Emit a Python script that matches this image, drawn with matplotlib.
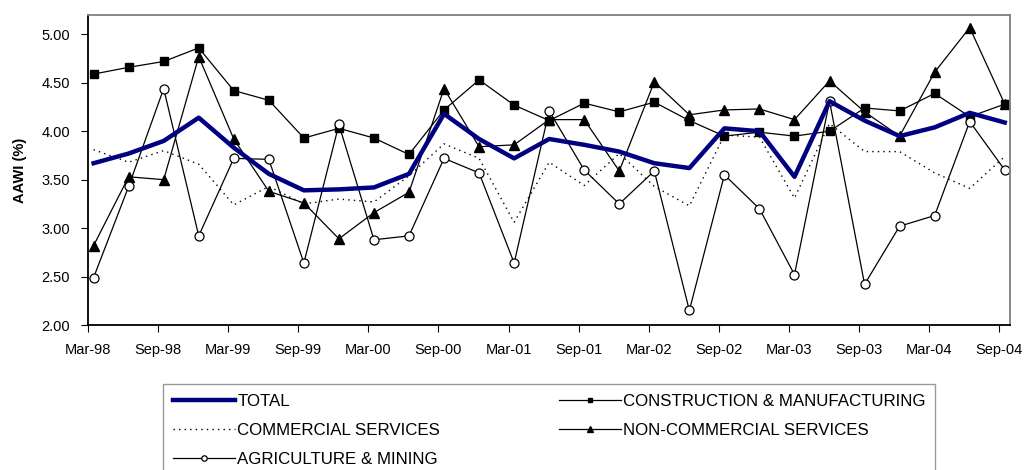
import numpy as np
import matplotlib.pyplot as plt

plt.rcParams['font.family'] = ['Liberation Sans', 'DejaVu Sans']

# quarterly series, Mar-98 .. Sep-04
quarters = ['Mar-98', 'Jun-98', 'Sep-98', 'Dec-98', 'Mar-99', 'Jun-99', 'Sep-99', 'Dec-99',
            'Mar-00', 'Jun-00', 'Sep-00', 'Dec-00', 'Mar-01', 'Jun-01', 'Sep-01', 'Dec-01',
            'Mar-02', 'Jun-02', 'Sep-02', 'Dec-02', 'Mar-03', 'Jun-03', 'Sep-03', 'Dec-03',
            'Mar-04', 'Jun-04', 'Sep-04']

total = [3.67, 3.77, 3.90, 4.14, 3.83, 3.56, 3.39, 3.40, 3.42, 3.56, 4.18, 3.92, 3.72, 3.92,
         3.86, 3.79, 3.67, 3.62, 4.03, 4.00, 3.53, 4.31, 4.11, 3.95, 4.04, 4.19, 4.09]
constr = [4.59, 4.66, 4.72, 4.86, 4.42, 4.32, 3.93, 4.03, 3.93, 3.76, 4.22, 4.53, 4.27, 4.11,
          4.29, 4.20, 4.30, 4.11, 3.95, 3.99, 3.95, 4.00, 4.24, 4.21, 4.39, 4.15, 4.28]
comm = [3.81, 3.68, 3.80, 3.66, 3.24, 3.43, 3.25, 3.30, 3.27, 3.54, 3.87, 3.72, 3.06, 3.68,
        3.44, 3.77, 3.43, 3.23, 3.96, 3.94, 3.31, 4.08, 3.79, 3.79, 3.57, 3.41, 3.74]
noncomm = [2.82, 3.53, 3.50, 4.77, 3.92, 3.38, 3.26, 2.89, 3.16, 3.37, 4.44, 3.84, 3.86, 4.12,
           4.12, 3.59, 4.51, 4.17, 4.22, 4.23, 4.12, 4.52, 4.20, 3.95, 4.61, 5.07, 4.28]
agri = [2.49, 3.43, 4.44, 2.92, 3.72, 3.71, 2.64, 4.07, 2.88, 2.92, 3.72, 3.57, 2.64, 4.21,
        3.60, 3.25, 3.59, 2.15, 3.55, 3.20, 2.52, 4.31, 2.42, 3.02, 3.13, 4.10, 3.60]

# points sit mid-month, ticks at start of month
x = np.arange(len(quarters)) + 0.16

fig = plt.figure(figsize=(10.34, 4.70), dpi=100)
ax = fig.add_axes([0.0851, 0.3085, 0.8917, 0.6596])

l_total, = ax.plot(x, total, color='#000080', lw=3.2, zorder=5, label='TOTAL')
l_constr, = ax.plot(x, constr, color='black', lw=0.9, marker='s', ms=6,
                    label='CONSTRUCTION & MANUFACTURING')
l_comm, = ax.plot(x, comm, color='black', lw=1.0, ls=(0, (1, 3)), label='COMMERCIAL SERVICES')
l_noncomm, = ax.plot(x, noncomm, color='black', lw=0.9, marker='^', ms=7,
                     label='NON-COMMERCIAL SERVICES')
l_agri, = ax.plot(x, agri, color='black', lw=0.9, marker='o', ms=6.5, mfc='white',
                  mew=0.9, label='AGRICULTURE & MINING')

ax.set_xlim(0, 26.31)
ax.set_ylim(2.0, 5.2)
ax.set_yticks(np.arange(2.0, 5.01, 0.5))
ax.set_yticklabels([f'{v:.2f}' for v in np.arange(2.0, 5.01, 0.5)])
ax.set_xticks(np.arange(0, len(quarters), 2))
ax.set_xticklabels(quarters[::2])
ax.tick_params(direction='out', length=5, labelsize=10.5, colors='black', pad=8)
ax.set_ylabel('AAWI (%)', fontsize=10.5, fontweight='bold', labelpad=10)

for s in ['left', 'bottom']:
    ax.spines[s].set_color('black')
    ax.spines[s].set_linewidth(1.3)
for s in ['top', 'right']:
    ax.spines[s].set_color('#808080')
    ax.spines[s].set_linewidth(1.3)

fig.legend(handles=[l_total, l_comm, l_agri, l_constr, l_noncomm],
           loc='upper left', bbox_to_anchor=(155 / 1034, 1 - 376 / 470),
           ncol=2, frameon=True, fancybox=False, edgecolor='#808080',
           fontsize=12.2, handlelength=3.7, handletextpad=0.1, columnspacing=7.0,
           labelspacing=0.84, markerscale=0.6, borderpad=0.55)

fig.savefig('out.png', dpi=100)
